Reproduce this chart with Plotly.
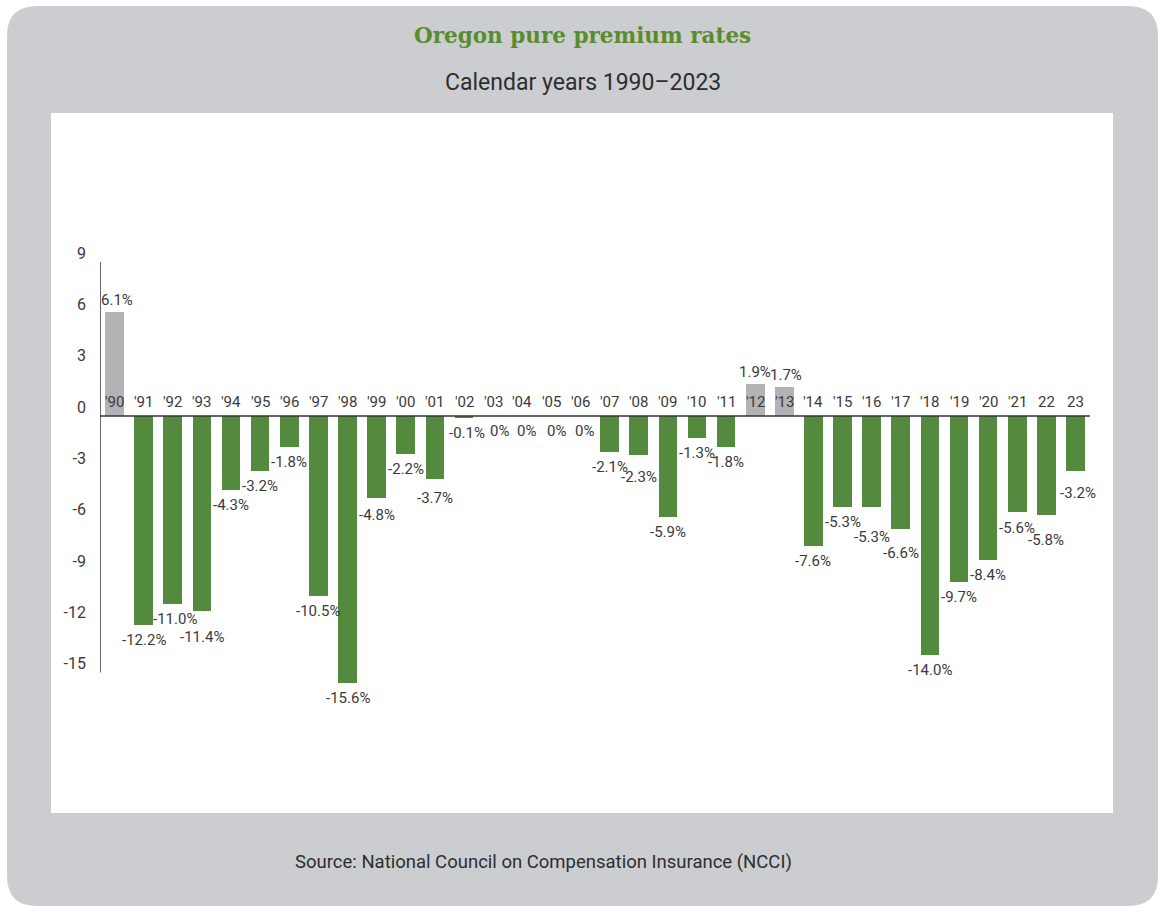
import plotly.graph_objects as go

years = ["'90", "'91", "'92", "'93", "'94", "'95", "'96", "'97", "'98", "'99",
         "'00", "'01", "'02", "'03", "'04", "'05", "'06", "'07", "'08", "'09",
         "'10", "'11", "'12", "'13", "'14", "'15", "'16", "'17", "'18", "'19",
         "'20", "'21", "22", "23"]
rates = [6.1, -12.2, -11.0, -11.4, -4.3, -3.2, -1.8, -10.5, -15.6, -4.8,
         -2.2, -3.7, -0.1, 0.0, 0.0, 0.0, 0.0, -2.1, -2.3, -5.9,
         -1.3, -1.8, 1.9, 1.7, -7.6, -5.3, -5.3, -6.6, -14.0, -9.7,
         -8.4, -5.6, -5.8, -3.2]
y_ticks = [-15, -12, -9, -6, -3, 0, 3, 6, 9]

title = "Oregon pure premium rates"
subtitle = "Calendar years 1990\u20132023"
source = "Source: National Council on Compensation Insurance (NCCI)"

GREEN = "#548A3D"
GREY_BAR = "#B3B2B4"
BG_GREY = "#CCCDD1"
TXT = "#3A3A3C"
FONT = "Roboto, sans-serif"
FS = 15

# extra label nudges (pixels) to avoid overlaps, as in the original
y_nudge = {3: -11, 11: -4, 18: -7, 26: -15, 27: -9, 31: -1, 32: -10, 33: -7, 9: -2}
x_nudge = {0: 2, 2: 2, 13: 6, 14: 4, 15: 5, 16: 4, 12: 3, 23: 2, 33: 2}

xs = list(range(len(years)))
colors = [GREY_BAR if v > 0 else GREEN for v in rates]

fig = go.Figure()
fig.add_trace(go.Bar(x=xs, y=rates, marker=dict(color=colors, line=dict(width=0)),
                     width=0.64, hoverinfo="skip"))

W, H = 1160, 909
ml, mr, mt, mb = 100, 47, 113, 96
pw, ph = W - ml - mr, H - mt - mb

def px_x(p):
    return (p - ml) / pw

def px_y(p):
    return (H - mb - p) / ph

# rounded grey panel
x0, x1 = px_x(7), px_x(1158)
y0, y1 = px_y(906), px_y(6)
rx, ry = 30 / pw, 30 / ph
path = (f"M {x0+rx},{y1} L {x1-rx},{y1} Q {x1},{y1} {x1},{y1-ry} "
        f"L {x1},{y0+ry} Q {x1},{y0} {x1-rx},{y0} "
        f"L {x0+rx},{y0} Q {x0},{y0} {x0},{y0+ry} "
        f"L {x0},{y1-ry} Q {x0},{y1} {x0+rx},{y1} Z")
shapes = [
    dict(type="path", path=path, xref="paper", yref="paper",
         fillcolor=BG_GREY, line=dict(width=0), layer="below"),
    dict(type="rect", xref="paper", yref="paper", x0=px_x(51), x1=1, y0=0, y1=1,
         fillcolor="white", line=dict(width=0), layer="below"),
    # zero line
    dict(type="line", xref="x", yref="y", x0=-0.5, x1=len(years) - 0.5, y0=0, y1=0,
         line=dict(color="#333333", width=1.5), layer="above"),
    # left axis line
    dict(type="line", xref="x", yref="y", x0=-0.5, x1=-0.5, y0=min(y_ticks), y1=max(y_ticks),
         line=dict(color="#333333", width=1.5), layer="above"),
]

annotations = []
for i, (lab, v) in enumerate(zip(years, rates)):
    annotations.append(dict(x=i, y=0, text=lab, showarrow=False, xref="x", yref="y",
                            yanchor="middle", xanchor="center", yshift=14,
                            font=dict(family=FONT, size=FS, color=TXT)))
    txt = ("%.1f%%" % v) if v != 0 else "0%"
    if v > 0:
        ys = 12
    else:
        ys = -15 + y_nudge.get(i, 0)
    annotations.append(dict(x=i, y=v, text=txt, showarrow=False, xref="x", yref="y",
                            yanchor="middle", xanchor="center", yshift=ys,
                            xshift=x_nudge.get(i, 0),
                            font=dict(family=FONT, size=FS, color=TXT)))

annotations += [
    dict(x=px_x(582.5), y=px_y(36), xref="paper", yref="paper", text="<b>" + title + "</b>",
         showarrow=False, xanchor="center", yanchor="middle",
         font=dict(family="DejaVu Serif", size=21.5, color="#5A8C2B")),
    dict(x=px_x(583), y=px_y(83), xref="paper", yref="paper", text=subtitle,
         showarrow=False, xanchor="center", yanchor="middle",
         font=dict(family="Roboto, sans-serif", size=23, color="#2E2E30")),
    dict(x=px_x(543.5), y=px_y(862), xref="paper", yref="paper", text=source,
         showarrow=False, xanchor="center", yanchor="middle",
         font=dict(family="Roboto, sans-serif", size=18.5, color="#2E2E30")),
]

zero_px = 416
ppu = 17.1
fig.update_layout(
    width=W, height=H,
    margin=dict(l=ml, r=mr, t=mt, b=mb),
    paper_bgcolor="white", plot_bgcolor="rgba(0,0,0,0)",
    showlegend=False, bargap=0,
    shapes=shapes, annotations=annotations,
    xaxis=dict(range=[-0.5, -0.5 + pw / 29.12], showgrid=False, zeroline=False,
               showline=False, showticklabels=False, ticks="", fixedrange=True),
    yaxis=dict(range=[-(H - mb - zero_px) / ppu, (zero_px - mt) / ppu],
               tickvals=y_ticks, ticktext=[str(t) for t in y_ticks],
               showgrid=False, zeroline=False, showline=False, ticks="",
               ticklabelstandoff=13, ticklabelshift=-9,
               tickfont=dict(family=FONT, size=FS + 1, color=TXT), fixedrange=True),
)

fig.write_html("out.html", config={"displayModeBar": False},
               post_script="document.body.style.margin='0';")
